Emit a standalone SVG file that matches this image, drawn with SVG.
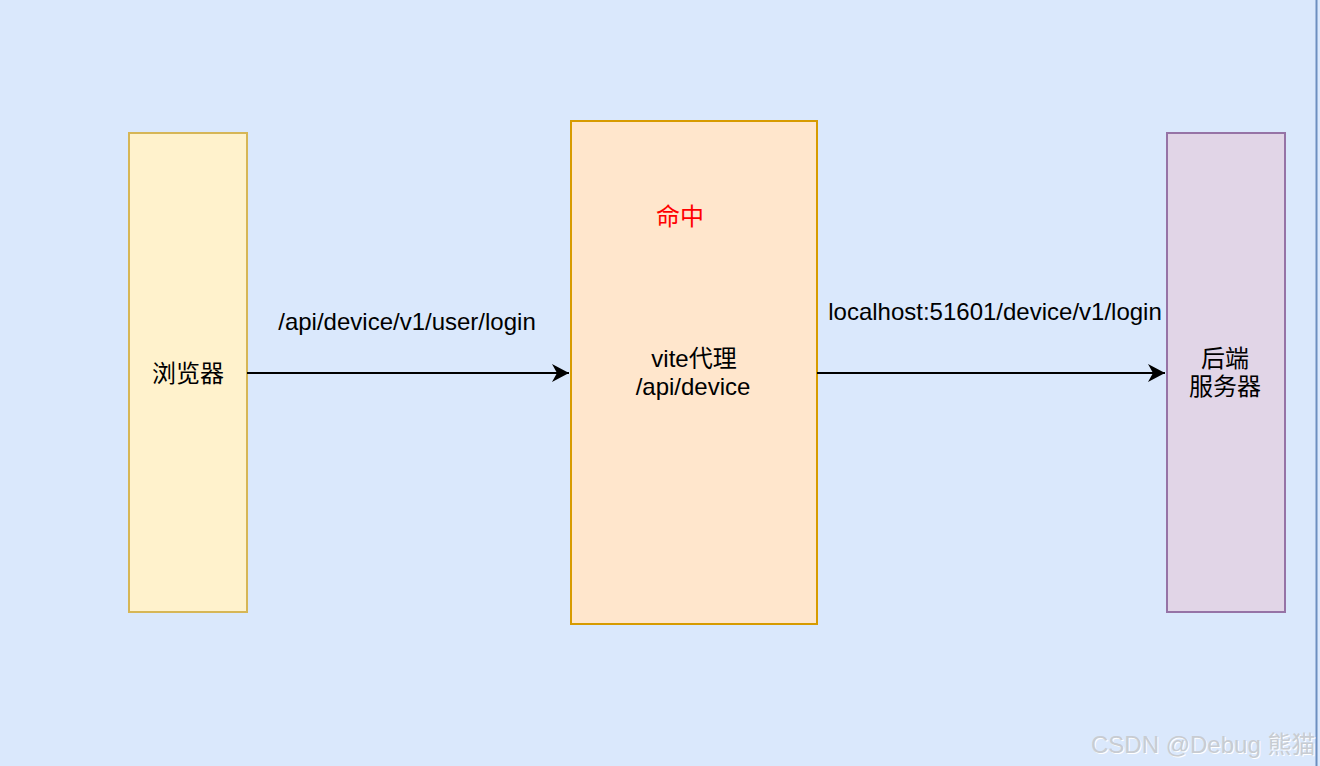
<svg xmlns="http://www.w3.org/2000/svg" width="1320" height="766" viewBox="0 0 1320 766">
<defs>
<style>
.t{font-family:"Liberation Sans","Noto Sans CJK SC",Arial,sans-serif;font-size:24px;fill:#000;text-anchor:middle}
.conn{stroke:#000;stroke-width:2;fill:none}
.wm{font-family:"Liberation Sans","Noto Sans CJK SC",sans-serif;font-size:24px;fill:#c8ccd2}
</style>
<marker id="arr" markerWidth="18" markerHeight="18" refX="17" refY="9" orient="auto" markerUnits="userSpaceOnUse">
<path d="M0,0 L17,9 L0,18 L5,9 Z" fill="#000"/>
</marker>
</defs>
<rect x="0" y="0" width="1320" height="766" fill="#dae8fc"/>
<line x1="1316.5" y1="0" x2="1316.5" y2="766" stroke="#6c8ebf" stroke-width="2"/>
<g id="browser">
<rect x="129" y="133" width="118" height="479" fill="#fff2cc" stroke="#d6b656" stroke-width="2"/>
<text class="t" x="188" y="382">浏览器</text>
</g>
<g id="proxy">
<rect x="571" y="121" width="246" height="503" fill="#ffe6cc" stroke="#d79b00" stroke-width="2"/>
<text class="t" x="680" y="225" style="fill:#ff0000">命中</text>
<text class="t" x="694" y="367">vite代理</text>
<text class="t" x="693" y="395">/api/device</text>
</g>
<g id="backend">
<rect x="1167" y="133" width="118" height="479" fill="#e1d5e7" stroke="#9673a6" stroke-width="2"/>
<text class="t" x="1225" y="367">后端</text>
<text class="t" x="1225" y="395">服务器</text>
</g>
<g id="connectors">
<line class="conn" x1="247" y1="373" x2="569" y2="373" marker-end="url(#arr)"/>
<line class="conn" x1="817" y1="373" x2="1165" y2="373" marker-end="url(#arr)"/>
<text class="t" x="407" y="330">/api/device/v1/user/login</text>
<text class="t" x="995" y="320">localhost:51601/device/v1/login</text>
</g>
<text class="wm" x="1091" y="753" style="fill:#ffffff" dx="1" dy="1">CSDN @Debug 熊猫</text>
<text class="wm" x="1091" y="753">CSDN @Debug 熊猫</text>
</svg>
